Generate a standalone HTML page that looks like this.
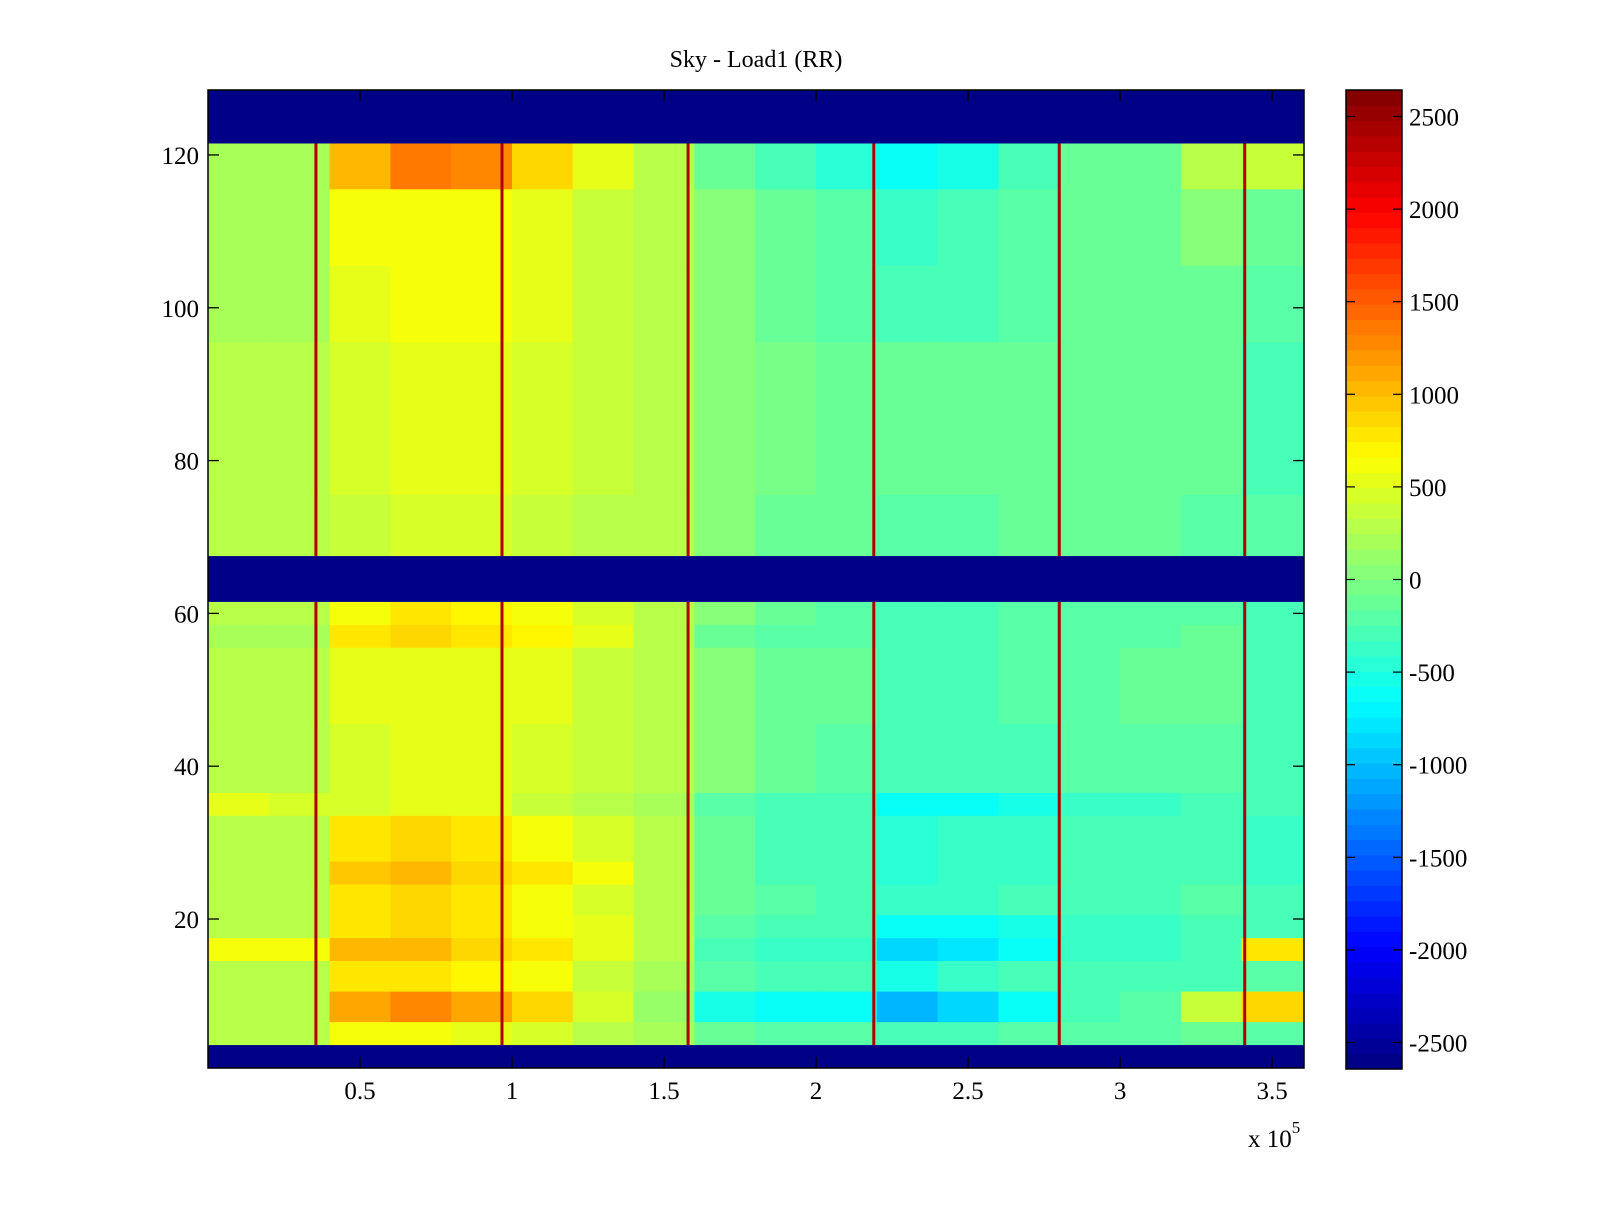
<!DOCTYPE html>
<html><head><meta charset="utf-8"><style>
body{margin:0;background:#fff;}
svg text{font-family:"Liberation Serif",serif;fill:#000;}
</style></head><body>
<svg id="chart" width="1600" height="1200" viewBox="0 0 1600 1200" xmlns="http://www.w3.org/2000/svg">
<rect x="0" y="0" width="1600" height="1200" fill="#fff"/>
<text x="756" y="67" font-size="24" text-anchor="middle">Sky - Load1 (RR)</text>
<g id="cells"></g>
<g id="vlines"></g>
<g id="axes"></g>
<g id="cbar"></g>
<text x="1248" y="1147" font-size="25">x 10<tspan dy="-14" font-size="17">5</tspan></text>
</svg>
<script>
// ---- data ----
const colEdges = [0,0.2,0.4,0.6,0.8,1.0,1.2,1.4,1.6,1.8,2.0,2.2,2.4,2.6,2.8,3.0,3.2,3.4,3.605];
const bandRows = [[116,121],[106,115],[96,105],[76,95],[68,75],[59,61],[56,58],[46,55],[37,45],[34,36],[28,33],[25,27],[21,24],[18,20],[15,17],[11,14],[7,10],[4,6]];
const bandValues = [
 [200,200,1000,1350,1250,900,500,300,-100,-250,-450,-650,-500,-250,-150,-100,300,400],
 [200,200,600,650,600,550,400,300,0,-100,-200,-350,-300,-200,-150,-150,0,-100],
 [200,200,550,650,600,550,400,300,0,-100,-200,-250,-250,-200,-150,-150,-150,-200],
 [250,250,450,500,500,450,350,300,50,-50,-100,-150,-150,-100,-100,-100,-150,-250],
 [250,250,400,450,450,400,300,250,0,-100,-150,-200,-200,-150,-150,-150,-200,-200],
 [250,250,650,750,700,600,450,300,0,-150,-200,-300,-250,-200,-200,-200,-200,-300],
 [200,200,800,900,800,700,500,300,-100,-200,-200,-300,-300,-200,-200,-200,-150,-300],
 [300,300,500,550,550,500,350,250,0,-100,-150,-250,-250,-200,-200,-150,-150,-300],
 [300,300,450,550,550,450,350,250,0,-100,-200,-300,-300,-250,-200,-200,-200,-300],
 [500,450,450,500,500,400,300,200,-200,-300,-300,-600,-600,-500,-400,-400,-300,-300],
 [300,300,800,850,750,650,450,250,-150,-250,-300,-450,-400,-400,-300,-300,-300,-400],
 [300,300,950,1000,900,800,600,300,-150,-250,-300,-450,-400,-350,-300,-300,-300,-400],
 [300,300,800,850,750,650,450,250,-100,-200,-250,-400,-400,-300,-300,-300,-200,-300],
 [300,250,750,850,750,650,500,300,-200,-300,-300,-600,-600,-500,-400,-400,-300,-300],
 [600,600,1000,1000,900,750,500,300,-300,-400,-400,-900,-800,-600,-400,-400,-300,800],
 [300,300,750,750,700,600,400,200,-200,-300,-300,-500,-400,-300,-300,-300,-300,-200],
 [250,250,1150,1250,1100,850,450,100,-550,-650,-650,-1000,-900,-650,-300,-200,400,850],
 [250,250,600,600,550,450,300,200,-100,-200,-200,-300,-300,-200,-200,-200,-100,-200]
];
const maskedBands = [[1,3],[62,67],[122,128]];
const lineX = [0.355,0.967,1.579,2.19,2.80,3.41];
const lineRows = [[4,61],[68,121]];
const xTicks = [0.5,1,1.5,2,2.5,3,3.5];
const xTickLabels = ["0.5","1","1.5","2","2.5","3","3.5"];
const yTicks = [20,40,60,80,100,120];
const yTickLabels = ["20","40","60","80","100","120"];
const cTicks = [2500,2000,1500,1000,500,0,-500,-1000,-1500,-2000,-2500];
const cTickLabels = ["2500","2000","1500","1000","500","0","-500","-1000","-1500","-2000","-2500"];
const cMin = -2643, cMax = 2643;

// ---- scales ----
const PX0=208, PX1=1304, PY0=90, PY1=1068;
const XMIN=0, XMAX=3.605, YMIN=0.5, YMAX=128.5;
const sx = v => PX0 + (v-XMIN)/(XMAX-XMIN)*(PX1-PX0);
const sy = v => PY1 - (v-YMIN)/(YMAX-YMIN)*(PY1-PY0);
const CX0=1346, CX1=1402, CY0=90, CY1=1069;
const cy = v => CY1 - (v-cMin)/(cMax-cMin)*(CY1-CY0);
function jet(t){
  const idx=Math.min(63,Math.max(0,Math.floor(t*64)));
  const u=(idx+0.5)/64;
  const f=x=>Math.max(0,Math.min(1,x));
  const r=f(1.5-Math.abs(4*u-3)), g=f(1.5-Math.abs(4*u-2)), b=f(1.5-Math.abs(4*u-1));
  return `rgb(${Math.round(r*255)},${Math.round(g*255)},${Math.round(b*255)})`;
}
const colorOf = v => jet((v-cMin)/(cMax-cMin));
const NS="http://www.w3.org/2000/svg";
function mk(tag,attrs,parent){const e=document.createElementNS(NS,tag);for(const k in attrs)e.setAttribute(k,attrs[k]);parent.appendChild(e);return e;}

// ---- cells ----
const cells=document.getElementById('cells');
bandRows.forEach((br,bi)=>{
  for(let ci=0;ci<colEdges.length-1;ci++){
    const x0=sx(colEdges[ci]), x1=sx(colEdges[ci+1]);
    const y0=sy(br[1]+0.5), y1=sy(br[0]-0.5);
    const r=mk('rect',{x:x0,y:y0,width:x1-x0+0.5,height:y1-y0+0.5,fill:colorOf(bandValues[bi][ci])},cells);
    
    
  }
});
maskedBands.forEach(mb=>{
  const r=mk('rect',{x:PX0,y:sy(mb[1]+0.5),width:PX1-PX0,height:sy(mb[0]-0.5)-sy(mb[1]+0.5),fill:colorOf(cMin)},cells);
  
  
});
// ---- vertical lines ----
const vl=document.getElementById('vlines');
lineX.forEach(lx=>{
  lineRows.forEach(lr=>{
    const l=mk('rect',{x:sx(lx)-1.5,y:sy(lr[1]+0.5),width:3,height:sy(lr[0]-0.5)-sy(lr[1]+0.5),fill:'#b00000'},vl);
    
    
  });
});
// ---- axes ----
const ax=document.getElementById('axes');
const frame=mk('rect',{x:PX0,y:PY0,width:PX1-PX0,height:PY1-PY0,fill:'none',stroke:'#000','stroke-width':1.5},ax);


xTicks.forEach((t,i)=>{
  const x=sx(t);
  mk('line',{x1:x,y1:PY1,x2:x,y2:PY1-11,stroke:'#000','stroke-width':1.3},ax);
  mk('line',{x1:x,y1:PY0,x2:x,y2:PY0+11,stroke:'#000','stroke-width':1.3},ax);
  const tx=mk('text',{x:x,y:1099,'font-size':25,'text-anchor':'middle'},ax);
  tx.textContent=xTickLabels[i];
  
  
});
yTicks.forEach((t,i)=>{
  const y=sy(t);
  mk('line',{x1:PX0,y1:y,x2:PX0+11,y2:y,stroke:'#000','stroke-width':1.3},ax);
  mk('line',{x1:PX1,y1:y,x2:PX1-11,y2:y,stroke:'#000','stroke-width':1.3},ax);
  const tx=mk('text',{x:199,y:y+9,'font-size':25,'text-anchor':'end'},ax);
  tx.textContent=yTickLabels[i];
  
  
});
// ---- colorbar ----
const cb=document.getElementById('cbar');
for(let i=0;i<64;i++){
  const v0=cMin+(cMax-cMin)*i/64, v1=cMin+(cMax-cMin)*(i+1)/64;
  const r=mk('rect',{x:CX0,y:cy(v1),width:CX1-CX0,height:cy(v0)-cy(v1)+0.5,fill:colorOf((v0+v1)/2)},cb);
  
  
}
mk('rect',{x:CX0,y:CY0,width:CX1-CX0,height:CY1-CY0,fill:'none',stroke:'#000','stroke-width':1.5},cb);
cTicks.forEach((t,i)=>{
  const y=cy(t);
  mk('line',{x1:CX0,y1:y,x2:CX0+9,y2:y,stroke:'#000','stroke-width':1.2},cb);
  mk('line',{x1:CX1,y1:y,x2:CX1-9,y2:y,stroke:'#000','stroke-width':1.2},cb);
  const tx=mk('text',{x:1409,y:y+9,'font-size':25},cb);
  tx.textContent=cTickLabels[i];
  
  
});
</script>
</body></html>
